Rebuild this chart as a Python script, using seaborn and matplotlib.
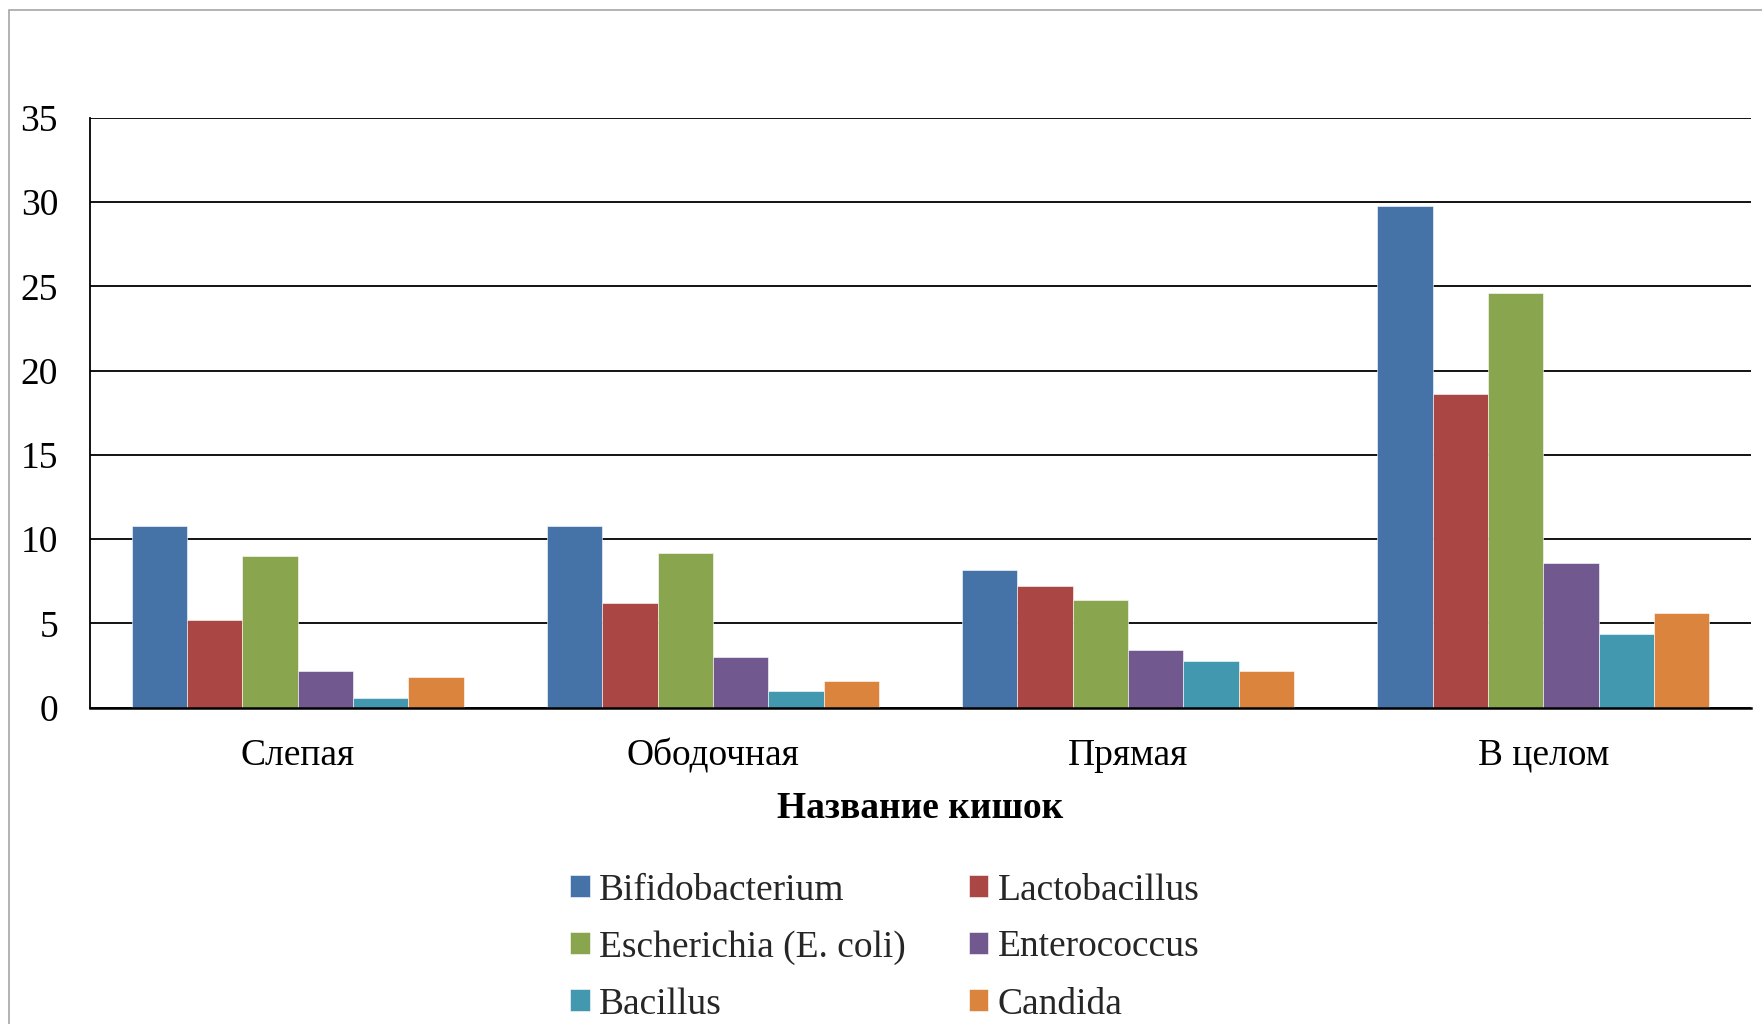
import matplotlib
matplotlib.use("Agg")
import matplotlib.pyplot as plt
import seaborn as sns
import pandas as pd
from matplotlib.patches import Rectangle

categories = ["Слепая", "Ободочная", "Прямая", "В целом"]
series_names = ["Bifidobacterium", "Lactobacillus", "Escherichia (E. coli)",
                "Enterococcus", "Bacillus", "Candida"]
bifidobacterium = [10.8, 10.8, 8.2, 29.8]
lactobacillus = [5.2, 6.2, 7.2, 18.6]
escherichia = [9.0, 9.2, 6.4, 24.6]
enterococcus = [2.2, 3.0, 3.4, 8.6]
bacillus = [0.6, 1.0, 2.8, 4.4]
candida = [1.8, 1.6, 2.2, 5.6]
y_ticks = [0, 5, 10, 15, 20, 25, 30, 35]
x_title = "Название кишок"

colors = ["#4572A7", "#AA4643", "#89A54E", "#71588F", "#4198AF", "#DB843D"]

series_values = [bifidobacterium, lactobacillus, escherichia, enterococcus, bacillus, candida]
rows = []
for name, vals in zip(series_names, series_values):
    for cat, v in zip(categories, vals):
        rows.append({"cat": cat, "series": name, "value": v})
df = pd.DataFrame(rows)

sns.set_theme(style="white")
plt.rcParams["font.family"] = ["Liberation Serif", "DejaVu Serif"]

FS = 27
W, H = 1762, 1024
fig = plt.figure(figsize=(W / 100, H / 100), dpi=100)
ax_left, ax_right, ax_top, ax_bottom = 90, 1751, 118, 707.7
ax = fig.add_axes([ax_left / W, 1 - ax_bottom / H, (ax_right - ax_left) / W, (ax_bottom - ax_top) / H])

sns.barplot(data=df, x="cat", y="value", hue="series", order=categories,
            hue_order=series_names, palette=colors, width=0.8, ax=ax,
            edgecolor="white", linewidth=0.4, saturation=1, legend=True, errorbar=None)

ax.set_ylim(0, 35)
ax.set_xlim(-0.5, 3.5)
ax.set_yticks(y_ticks)
ax.set_yticklabels([str(t) for t in y_ticks])
ax.yaxis.grid(True, color="black", linewidth=1.3)
ax.set_axisbelow(True)
for s in ["top", "right"]:
    ax.spines[s].set_visible(False)
ax.spines["left"].set_color("black")
ax.spines["left"].set_linewidth(1.3)
ax.spines["bottom"].set_color("black")
ax.spines["bottom"].set_linewidth(1.8)
ax.tick_params(axis="y", length=0, pad=23, labelsize=FS, labelcolor="black")
ax.tick_params(axis="x", length=0, pad=22, labelsize=FS, labelcolor="black")
ax.set_ylabel("")
ax.set_xlabel(x_title, fontsize=FS, fontweight="bold", color="black", labelpad=13)

handles, labels = ax.get_legend_handles_labels()
ax.get_legend().remove()
order = [0, 2, 4, 1, 3, 5]
fig.legend([handles[i] for i in order], [labels[i] for i in order],
           loc="upper left", bbox_to_anchor=(570 / W, 1 - 873 / H), ncol=2,
           frameon=False, fontsize=FS, handlelength=0.52, handleheight=0.52,
           handletextpad=0.25, columnspacing=1.68, labelspacing=0.6, borderpad=0,
           borderaxespad=0)

fig.patches.append(Rectangle((8.5 / W, -0.1), 1.2, 1 - 9.5 / H + 0.1,
                             transform=fig.transFigure, fill=False,
                             edgecolor="#a6a6a6", linewidth=1.2))

fig.savefig("out.png", dpi=100, facecolor="white")
